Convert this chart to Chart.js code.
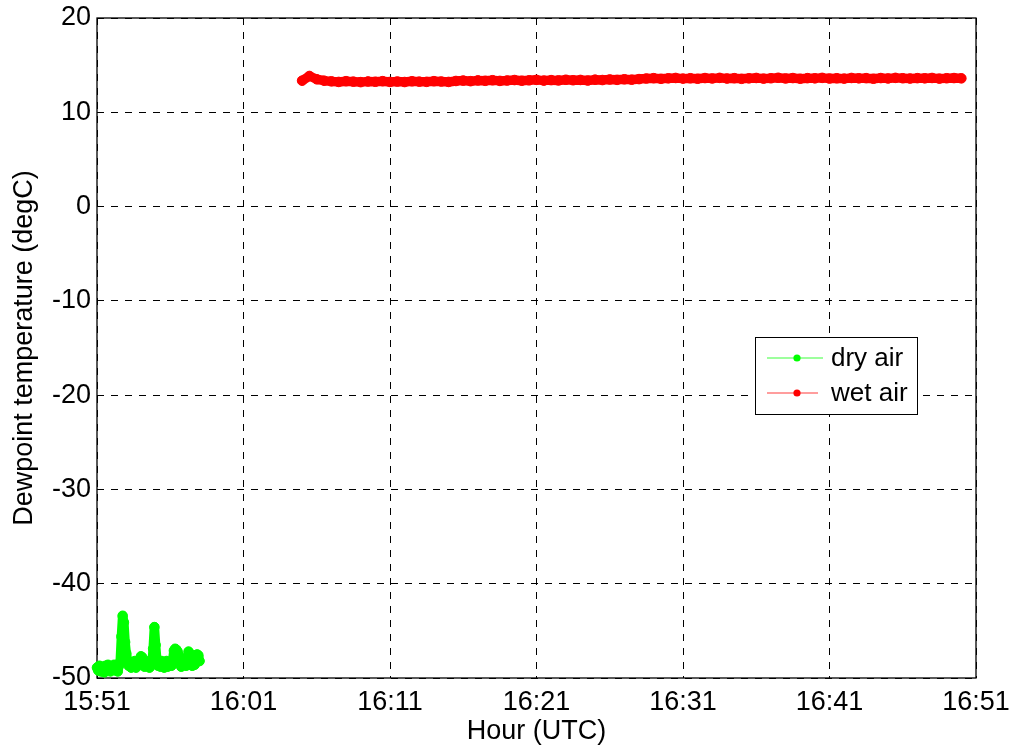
<!DOCTYPE html>
<html>
<head>
<meta charset="utf-8">
<title>Dewpoint temperature</title>
<script src="https://cdn.jsdelivr.net/npm/chart.js@4/dist/chart.umd.min.js"></script>
<style>
  html, body { margin: 0; padding: 0; background: #ffffff; }
  #wrap { width: 1013px; height: 749px; }
</style>
</head>
<body>
<div id="wrap"><canvas id="c" width="1013" height="749"></canvas></div>
<script>
// Time axis: minutes after 15:51 UTC
const hourTicks = ['15:51', '16:01', '16:11', '16:21', '16:31', '16:41', '16:51'];
const tempTicks = [20, 10, 0, -10, -20, -30, -40, -50];

// Dry air run: sampled every 5 s starting at 15:51:00
const dryStartMin = 0;
const dryStepMin = 5 / 60;
const dryAir = [
  -48.9, -49.2, -48.7, -49.3, -48.8, -49.0, -49.4, -48.7, -49.1, -48.6,
  -49.0, -49.3, -48.8, -49.1, -48.6, -49.2, -48.9, -49.3, -48.7, -48.3,
  -45.6, -43.4, -44.1, -46.2, -47.4, -48.1, -48.7, -48.3, -48.9, -48.4,
  -48.8, -48.2, -48.9, -48.5, -48.3, -48.0, -47.7, -47.8, -48.4, -48.8,
  -48.2, -48.7, -48.4, -48.9, -48.3, -48.6, -46.9, -44.6, -46.5, -48.1,
  -48.7, -48.3, -48.8, -48.2, -48.6, -48.9, -48.4, -48.2, -48.8, -48.5,
  -48.3, -48.7, -48.1, -47.1, -46.9, -47.0, -47.2, -47.6, -48.4, -48.8,
  -48.3, -48.6, -48.2, -48.7, -48.0, -47.2, -47.4, -48.3, -48.7, -48.2,
  -48.6, -48.1, -47.5, -47.6, -48.2
];

// Wet air run: sampled every 30 s starting at 16:05 UTC
const wetStartMin = 14.0;
const wetStepMin = 0.5;
const wetAir = [
  13.35, 13.85, 13.50, 13.35, 13.28, 13.22, 13.30, 13.25, 13.20, 13.27,
  13.24, 13.30, 13.22, 13.26, 13.21, 13.29, 13.25, 13.23, 13.30, 13.26,
  13.22, 13.32, 13.36, 13.30, 13.38, 13.34, 13.40, 13.33, 13.37, 13.42,
  13.35, 13.39, 13.44, 13.36, 13.41, 13.38, 13.45, 13.40, 13.43, 13.37,
  13.46, 13.42, 13.48, 13.44, 13.50, 13.46, 13.52,
  13.58, 13.62, 13.55, 13.60, 13.64, 13.57, 13.61, 13.56, 13.63, 13.59,
  13.65, 13.58, 13.62, 13.55, 13.60, 13.64, 13.57, 13.61, 13.66, 13.59,
  13.63, 13.56, 13.62, 13.60, 13.65, 13.58, 13.61, 13.57, 13.64, 13.60,
  13.62, 13.56, 13.63, 13.59, 13.65, 13.61, 13.58, 13.62, 13.60, 13.64,
  13.57, 13.61, 13.63, 13.60
];

const seriesNames = ['dry air', 'wet air'];
const seriesColors = ['#00ff00', '#ff0000'];
const legendLineColors = ['#7dff7d', '#ff7d7d'];

function toPoints(start, step, values) {
  return values.map((v, i) => ({ x: start + i * step, y: v }));
}

const FONT = '"Liberation Sans", Arial, Helvetica, sans-serif';

// Fixed axis box sizes; label overhang must not shrink the plot area
function fixScale(size) {
  return function (scale) {
    if (scale.isHorizontal()) scale.height = size; else scale.width = size;
    scale.paddingTop = 0;
    scale.paddingBottom = 0;
    scale.paddingLeft = 0;
    scale.paddingRight = 0;
  };
}

// Box around the axes, MATLAB style
const framePlugin = {
  id: 'frame',
  beforeDatasetsDraw(chart) {
    const a = chart.chartArea;
    const ctx = chart.ctx;
    ctx.save();
    ctx.strokeStyle = '#000000';
    ctx.lineWidth = 1.3;
    ctx.setLineDash([]);
    ctx.strokeRect(a.left, a.top, a.right - a.left, a.bottom - a.top);
    ctx.restore();
  }
};

// Legend box drawn inside the axes
const insideLegend = {
  id: 'insideLegend',
  afterDraw(chart) {
    const ctx = chart.ctx;
    const box = { x: 755, y: 337, w: 162, h: 77 };
    ctx.save();
    ctx.fillStyle = '#ffffff';
    ctx.fillRect(box.x, box.y, box.w, box.h);
    ctx.strokeStyle = '#000000';
    ctx.lineWidth = 1;
    ctx.strokeRect(box.x + 0.5, box.y + 0.5, box.w, box.h);
    const rows = [box.y + 21, box.y + 56];
    chart.data.datasets.forEach((ds, i) => {
      const y = rows[i];
      ctx.strokeStyle = legendLineColors[i];
      ctx.lineWidth = 1.5;
      ctx.beginPath();
      ctx.moveTo(767, y);
      ctx.lineTo(i === 0 ? 823 : 818, y);
      ctx.stroke();
      ctx.fillStyle = ds.pointBackgroundColor;
      ctx.beginPath();
      ctx.arc(797, y, 3.6, 0, Math.PI * 2);
      ctx.fill();
      ctx.fillStyle = '#000000';
      ctx.font = '26px ' + FONT;
      ctx.textBaseline = 'middle';
      ctx.textAlign = 'left';
      ctx.fillText(ds.label, 831, y + 1);
    });
    ctx.restore();
  }
};

// Densely logged samples: markers merge into a solid band
const datasets = [
  { data: toPoints(dryStartMin, dryStepMin, dryAir) },
  { data: toPoints(wetStartMin, wetStepMin, wetAir) }
].map((d, i) => Object.assign(d, {
  label: seriesNames[i],
  borderColor: seriesColors[i],
  backgroundColor: seriesColors[i],
  pointBackgroundColor: seriesColors[i],
  pointBorderColor: seriesColors[i],
  borderWidth: 9.5,
  borderCapStyle: 'round',
  borderJoinStyle: 'round',
  pointRadius: 4.8,
  pointBorderWidth: 1,
  pointHoverRadius: 4.8,
  tension: 0,
  clip: false
}));

new Chart(document.getElementById('c'), {
  type: 'line',
  data: { datasets },
  options: {
    responsive: false,
    devicePixelRatio: 1,
    animation: false,
    events: [],
    layout: { padding: { left: 0, top: 18, right: 37, bottom: 0 } },
    plugins: {
      legend: { display: false },
      tooltip: { enabled: false }
    },
    scales: {
      x: {
        type: 'linear',
        min: 0,
        max: 60,
        afterFit: fixScale(71),
        afterBuildTicks(scale) {
          scale.ticks = hourTicks.map((_, i) => ({ value: i * 10 }));
        },
        ticks: {
          color: '#000000',
          font: { family: FONT, size: 27, lineHeight: 1.2 },
          padding: 8,
          maxRotation: 0,
          autoSkip: false,
          callback: (v) => hourTicks[Math.round(v / 10)]
        },
        grid: { color: '#000000', lineWidth: 1, drawTicks: false },
        border: { display: false, dash: [7, 7] },
        title: {
          display: true,
          text: 'Hour (UTC)',
          color: '#000000',
          font: { family: FONT, size: 27, lineHeight: 1 },
          padding: { top: 0, bottom: 3.5 }
        }
      },
      y: {
        min: -50,
        max: 20,
        afterFit: fixScale(97),
        afterBuildTicks(scale) {
          scale.ticks = tempTicks.map(v => ({ value: v }));
        },
        ticks: {
          color: '#000000',
          font: { family: FONT, size: 27, lineHeight: 1.2 },
          padding: 6,
          autoSkip: false
        },
        grid: { color: '#000000', lineWidth: 1, drawTicks: false },
        border: { display: false, dash: [7, 7] },
        title: {
          display: true,
          text: 'Dewpoint temperature (degC)',
          color: '#000000',
          font: { family: FONT, size: 27, lineHeight: 1 },
          padding: { top: 11.5, bottom: 0 }
        }
      }
    }
  },
  plugins: [framePlugin, insideLegend]
});
</script>
</body>
</html>
